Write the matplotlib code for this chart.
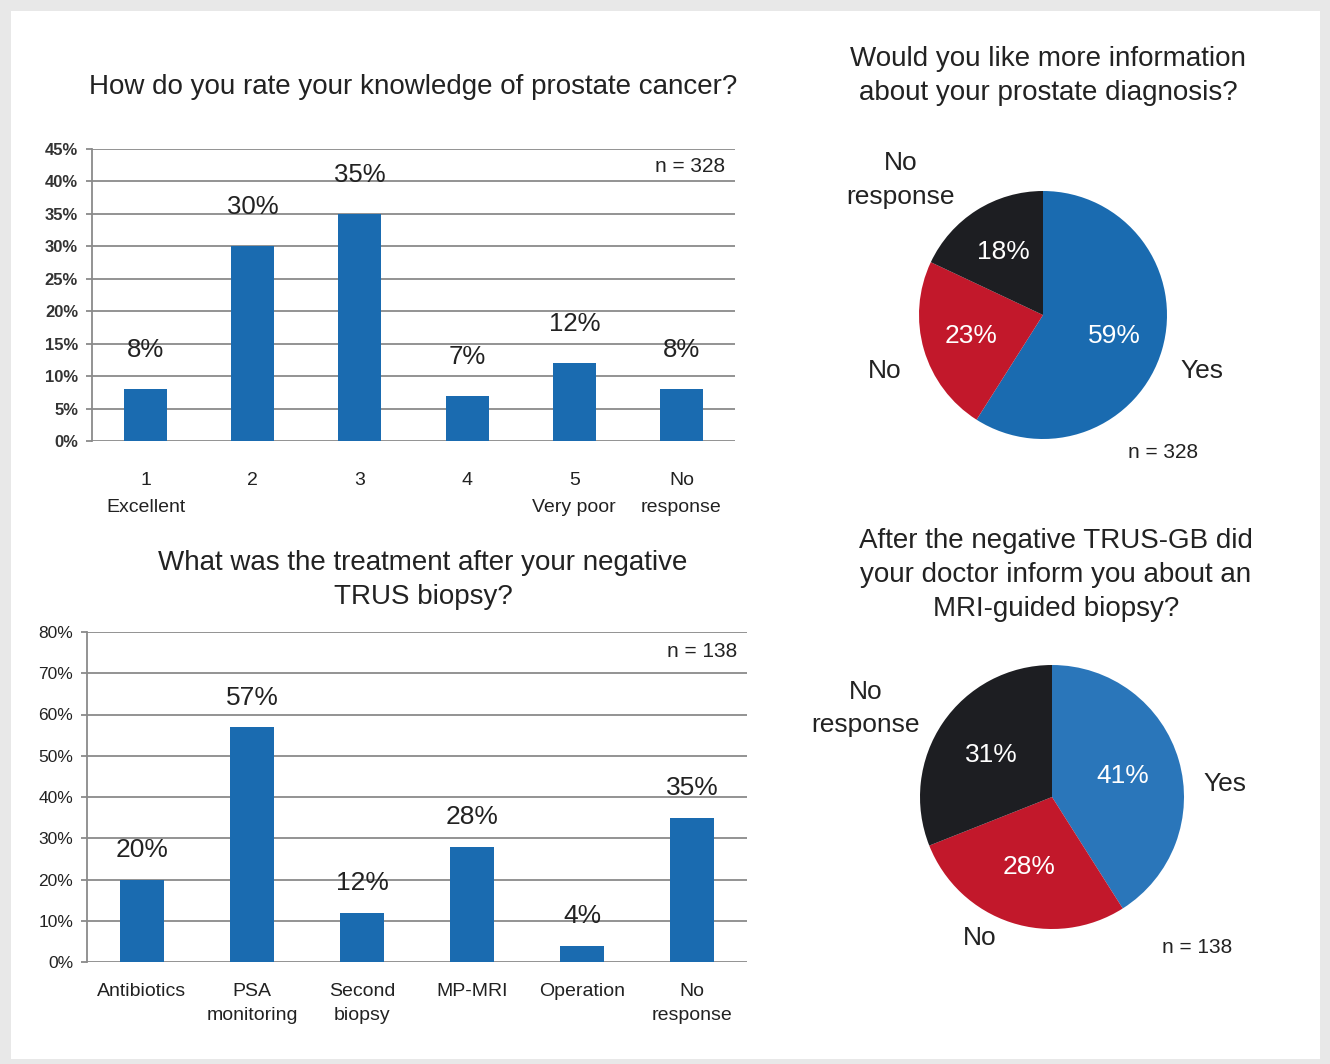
import numpy as np
import matplotlib.pyplot as plt
from matplotlib.patches import Rectangle

plt.switch_backend('agg')
plt.rcParams['font.family'] = ['Liberation Sans', 'DejaVu Sans']

# data
KNOW_LABELS = ['1\nExcellent', '2', '3', '4', '5\nVery poor', 'No\nresponse']
KNOW_VALUES = [8, 30, 35, 7, 12, 8]
TREAT_LABELS = ['Antibiotics', 'PSA\nmonitoring', 'Second\nbiopsy', 'MP-MRI', 'Operation', 'No\nresponse']
TREAT_VALUES = [20, 57, 12, 28, 4, 35]
INFO_LABELS = ['Yes', 'No', 'No\nresponse']
INFO_VALUES = [59, 23, 18]
MRI_LABELS = ['Yes', 'No', 'No\nresponse']
MRI_VALUES = [41, 28, 31]

BLUE = '#1a6bb0'
BLUE2 = '#2a76ba'
RED = '#c2182b'
DARK = '#1d1e22'
GRID = '#8a8a8a'
TXT = '#222222'

W, H = 1330, 1064
fig = plt.figure(figsize=(W / 100, H / 100), dpi=100)
fig.patch.set_facecolor('#e8e8e8')
fig.patches.append(Rectangle((11 / W, 5 / H), 1309 / W, 1048 / H, transform=fig.transFigure,
                             facecolor='white', edgecolor='none', zorder=-10))


def box(left, top, right, bottom):
    return [left / W, 1 - bottom / H, (right - left) / W, (bottom - top) / H]


def bar_chart(rect, labels, values, ymax, step, n_text, label_pad, ylab_kw, val_size, offset, lsp):
    ax = fig.add_axes(rect)
    ax.set_facecolor('none')
    x = np.arange(len(values))
    ax.bar(x, values, width=0.4, color=BLUE, zorder=3)
    ax.set_xlim(-0.5, len(values) - 0.5)
    ax.set_ylim(0, ymax)
    ticks = np.arange(0, ymax + 0.1, step)
    ax.set_yticks(ticks)
    ax.set_yticklabels([f'{int(t)}%' for t in ticks], **ylab_kw)
    ax.yaxis.grid(True, color=GRID, linewidth=1.3, zorder=0)
    ax.tick_params(axis='y', length=4, width=1.3, color=GRID, pad=6)
    ax.set_xticks(x)
    ax.set_xticklabels(labels, fontsize=14, color=TXT, linespacing=lsp)
    ax.tick_params(axis='x', length=0, pad=label_pad)
    for s in ['top', 'right', 'bottom']:
        ax.spines[s].set_visible(False)
    ax.spines['left'].set_color(GRID)
    ax.spines['left'].set_linewidth(1.3)
    for xi, v in zip(x, values):
        ax.annotate(f'{v}%', (xi, v), xytext=(0, offset), textcoords='offset points',
                    ha='center', va='center', fontsize=val_size, color=TXT)
    ax.text(0.985, 0.94, n_text, transform=ax.transAxes, ha='right', va='center',
            fontsize=15, color=TXT)
    return ax


bar_chart(box(92, 149, 735, 441), KNOW_LABELS, KNOW_VALUES, 45, 5, 'n = 328', 22,
          dict(fontsize=12, fontweight='bold', color='#333333'), 18.5, 28, 1.8)
fig.text(413 / W, 1 - 87 / H, 'How do you rate your knowledge of prostate cancer?',
         ha='center', va='center', fontsize=20, color=TXT)

bar_chart(box(87, 632, 747, 962), TREAT_LABELS, TREAT_VALUES, 80, 10, 'n = 138', 15,
          dict(fontsize=12.5, color=TXT), 19, 21, 1.55)
fig.text(423 / W, 1 - 580 / H, 'What was the treatment after your negative\nTRUS biopsy?',
         ha='center', va='center', fontsize=20, color=TXT, linespacing=1.4)


def pie_chart(cx, cy, r, values, labels, label_pos, n_pos, n_text, blue, pctd):
    k = 1.6
    half = r * k
    ax = fig.add_axes(box(cx - half, cy - half, cx + half, cy + half))
    ax.set_facecolor('none')
    ax.pie(values, colors=[blue, RED, DARK], startangle=90, counterclock=False,
           autopct=lambda p: f'{p:.0f}%', pctdistance=pctd, radius=1,
           textprops=dict(color='white', fontsize=19))
    ax.set_xlim(-k, k)
    ax.set_ylim(-k, k)
    ax.set_aspect('equal')
    ax.axis('off')
    for lab, (lx, ly) in zip(labels, label_pos):
        ax.text(lx, ly, lab, ha='center', va='center', fontsize=19, color=TXT,
                linespacing=1.5, clip_on=False)
    ax.text(n_pos[0], n_pos[1], n_text, ha='center', va='center', fontsize=15,
            color=TXT, clip_on=False)
    return ax


pie_chart(1043, 315, 124, INFO_VALUES, INFO_LABELS,
          [(1.28, -0.45), (-1.28, -0.45), (-1.15, 1.09)], (0.97, -1.11), 'n = 328', BLUE, 0.6)
fig.text(1048 / W, 1 - 76 / H, 'Would you like more information\nabout your prostate diagnosis?',
         ha='center', va='center', fontsize=20, color=TXT, linespacing=1.4)

pie_chart(1052, 797, 132, MRI_VALUES, MRI_LABELS,
          [(1.31, 0.1), (-0.55, -1.07), (-1.41, 0.67)], (1.1, -1.14), 'n = 138', BLUE2, 0.56)
fig.text(1056 / W, 1 - 575 / H,
         'After the negative TRUS-GB did\nyour doctor inform you about an\nMRI-guided biopsy?',
         ha='center', va='center', fontsize=20, color=TXT, linespacing=1.4)

fig.savefig('out.png', dpi=100, facecolor=fig.get_facecolor())
